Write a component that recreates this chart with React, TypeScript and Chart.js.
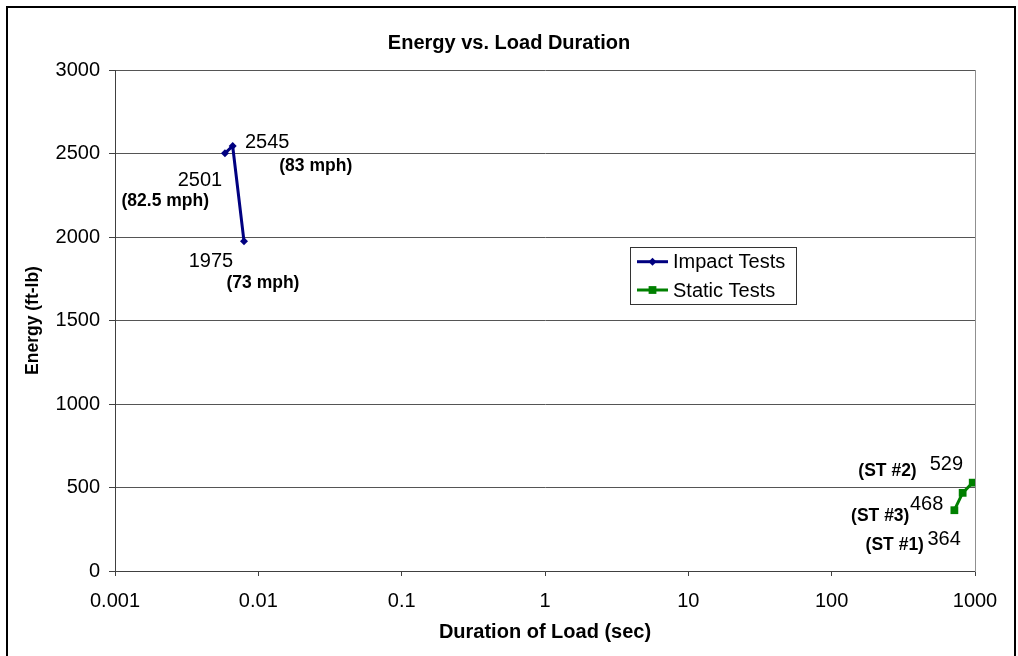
import React, { useEffect, useRef } from "react";
import { Chart, registerables } from "chart.js";

Chart.register(...registerables);

// ---- data ----
const impactDurations = [0.00585, 0.00662, 0.00794];
const impactEnergy = [2501, 2545, 1975];
const impactNotes = ["(82.5 mph)", "(83 mph)", "(73 mph)"];

const staticDurations = [718, 820, 964];
const staticEnergy = [364, 468, 529];
const staticNotes = ["(ST #1)", "(ST #3)", "(ST #2)"];

const seriesNames = ["Impact Tests", "Static Tests"];
const xTickValues = [0.001, 0.01, 0.1, 1, 10, 100, 1000];
const xTickLabels = ["0.001", "0.01", "0.1", "1", "10", "100", "1000"];
const yMin = 0;
const yMax = 3000;
const yStep = 500;

const FONT = "'Liberation Sans', Arial, Helvetica, sans-serif";
const IMPACT_COLOR = "#000080";
const STATIC_COLOR = "#008000";

// label placement (pixel offsets from each point, label centres)
const valueOffsets = [
  [[-25, 27.5], [34.5, -4], [-33, 20.7]],
  [[-10.3, 29.3], [-36, 11.6], [-26.4, -17.7]],
];
const noteOffsets = [
  [[-59.7, 47.7], [83.1, 19.7], [19, 42.3]],
  [[-59.6, 35.2], [-82.4, 23.8], [-85.2, -11.7]],
];

const labelPlugin = {
  id: "pointLabels",
  afterDatasetsDraw(chart: any) {
    const ctx = chart.ctx;
    ctx.save();
    ctx.fillStyle = "#000";
    ctx.textAlign = "center";
    ctx.textBaseline = "middle";
    const notes = [impactNotes, staticNotes];
    chart.data.datasets.forEach((ds: any, di: number) => {
      const meta = chart.getDatasetMeta(di);
      meta.data.forEach((pt: any, i: number) => {
        const v = ds.data[i].y;
        ctx.font = `20px ${FONT}`;
        ctx.fillText(String(v), pt.x + valueOffsets[di][i][0], pt.y + valueOffsets[di][i][1]);
        ctx.font = `bold 17.5px ${FONT}`;
        ctx.fillText(notes[di][i], pt.x + noteOffsets[di][i][0], pt.y + noteOffsets[di][i][1]);
      });
    });
    ctx.restore();
  },
};

const legendPlugin = {
  id: "boxLegend",
  afterDatasetsDraw(chart: any) {
    const ctx = chart.ctx;
    const left = 630, top = 247, w = 166, h = 57;
    ctx.save();
    ctx.fillStyle = "#fff";
    ctx.fillRect(left, top, w, h);
    ctx.strokeStyle = "#333";
    ctx.lineWidth = 1;
    ctx.strokeRect(left + 0.5, top + 0.5, w, h);
    chart.data.datasets.forEach((ds: any, i: number) => {
      const y = top + 14.7 + i * 28.3;
      ctx.strokeStyle = ds.borderColor;
      ctx.lineWidth = 3;
      ctx.beginPath();
      ctx.moveTo(637, y);
      ctx.lineTo(668, y);
      ctx.stroke();
      ctx.fillStyle = ds.borderColor;
      const cx = 652.5;
      if (ds.pointStyle === "rectRot") {
        const r = ds.pointRadius;
        ctx.beginPath();
        ctx.moveTo(cx - r, y);
        ctx.lineTo(cx, y - r);
        ctx.lineTo(cx + r, y);
        ctx.lineTo(cx, y + r);
        ctx.closePath();
        ctx.fill();
      } else {
        const s = ds.pointRadius * Math.SQRT1_2;
        ctx.fillRect(cx - s, y - s, 2 * s, 2 * s);
      }
      ctx.fillStyle = "#000";
      ctx.font = `20px ${FONT}`;
      ctx.textAlign = "left";
      ctx.textBaseline = "middle";
      ctx.fillText(ds.label, 673, y + 1);
    });
    ctx.restore();
  },
};

const borderPlugin = {
  id: "outerBorder",
  afterDraw(chart: any) {
    const ctx = chart.ctx;
    ctx.save();
    ctx.strokeStyle = "#000";
    ctx.lineWidth = 2;
    ctx.strokeRect(7, 7, 1008, 700);
    ctx.restore();
  },
};

export default function App() {
  const ref = useRef<HTMLCanvasElement | null>(null);

  useEffect(() => {
    if (!ref.current) return;
    const chart = new Chart(ref.current, {
      type: "line",
      data: {
        datasets: [
          {
            label: seriesNames[0],
            data: impactDurations.map((x, i) => ({ x, y: impactEnergy[i] })),
            borderColor: IMPACT_COLOR,
            backgroundColor: IMPACT_COLOR,
            borderWidth: 3,
            pointStyle: "rectRot",
            pointRadius: 4,
            pointBorderWidth: 0,
            tension: 0,
          },
          {
            label: seriesNames[1],
            data: staticDurations.map((x, i) => ({ x, y: staticEnergy[i] })),
            borderColor: STATIC_COLOR,
            backgroundColor: STATIC_COLOR,
            borderWidth: 3,
            pointStyle: "rect",
            pointRadius: 5.5,
            pointBorderWidth: 0,
            tension: 0,
          },
        ],
      },
      options: {
        responsive: false,
        animation: false,
        devicePixelRatio: 1,
        layout: { padding: 0 },
        plugins: {
          legend: { display: false },
          tooltip: { enabled: false },
          title: {
            display: true,
            text: "Energy vs. Load Duration",
            color: "#000",
            font: { family: FONT, size: 20, weight: "bold" },
            padding: { top: 31, bottom: 15 },
          },
        },
        scales: {
          x: {
            type: "logarithmic",
            position: "bottom",
            min: xTickValues[0],
            max: xTickValues[xTickValues.length - 1],
            afterBuildTicks: (s: any) => {
              s.ticks = xTickValues.map((value) => ({ value }));
            },
            afterFit: (s: any) => {
              s.height = 85;
            },
            ticks: {
              autoSkip: false,
              maxRotation: 0,
              color: "#000",
              padding: 13,
              font: { family: FONT, size: 20 },
              callback: (_v: any, i: number) => xTickLabels[i],
            },
            grid: { drawOnChartArea: false, drawTicks: true, tickLength: 5, color: "#404040" },
            border: { display: true, color: "#404040", width: 1 },
            title: {
              display: true,
              text: "Duration of Load (sec)",
              color: "#000",
              font: { family: FONT, size: 20, weight: "bold" },
              padding: { top: 0, bottom: 12 },
            },
          },
          y: {
            type: "linear",
            position: "left",
            min: yMin,
            max: yMax,
            afterFit: (s: any) => {
              s.width = 115;
            },
            ticks: {
              stepSize: yStep,
              color: "#000",
              padding: 9,
              font: { family: FONT, size: 20 },
              callback: (v: any) => String(v),
            },
            grid: { color: "#555", tickLength: 6, tickColor: "#404040" },
            border: { display: true, color: "#404040", width: 1 },
            title: {
              display: true,
              text: "Energy (ft-lb)",
              color: "#000",
              font: { family: FONT, size: 17.5, weight: "bold" },
              padding: { top: 22.5, bottom: 0 },
            },
          },
          y2: {
            type: "linear",
            position: "right",
            display: true,
            afterFit: (s: any) => {
              s.width = 43;
            },
            ticks: { display: false },
            grid: { drawOnChartArea: false, drawTicks: false },
            border: { display: true, color: "#909090", width: 1 },
          },
        },
      } as any,
      plugins: [labelPlugin, legendPlugin, borderPlugin],
    });
    return () => chart.destroy();
  }, []);

  return (
    <div style={{ position: "fixed", left: 0, top: 0, width: 1018, height: 656, background: "#fff" }}>
      <canvas ref={ref} width={1018} height={656} style={{ display: "block" }} />
    </div>
  );
}
